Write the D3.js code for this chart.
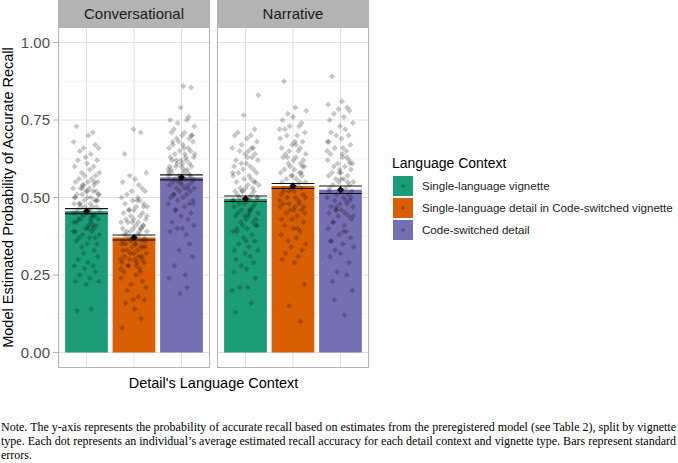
<!DOCTYPE html>
<html>
<head>
<meta charset="utf-8">
<script src="https://cdn.jsdelivr.net/npm/d3@7"></script>
<style>
  body { margin: 0; background: #fff; }
  svg { display: block; }
</style>
</head>
<body>
<svg id="chart" width="678" height="463"></svg>
<script>
// facets, categories, colours
var facets = ['Conversational', 'Narrative'];
var contexts = ['Single-language vignette',
                'Single-language detail in Code-switched vignette',
                'Code-switched detail'];
var colors = ['#1b9e77', '#d95f02', '#7570b3'];

// bar heights (means) and standard errors
var meansConv = [0.456, 0.371, 0.565];
var meansNarr = [0.496, 0.537, 0.525];
var seConv = [0.008, 0.008, 0.008];
var seNarr = [0.009, 0.008, 0.012];

var yTicks = [0, 0.25, 0.5, 0.75, 1];
var yMinor = [0.125, 0.375, 0.625, 0.875];
var yTickLabels = ['0.00', '0.25', '0.50', '0.75', '1.00'];

// horizontal jitter of the individual dots (in category units)
var jitterX = [-0.21, 0.13, 0.04, -0.27, 0.18, -0.06, 0.25, -0.14, 0.09, -0.02,
               0.22, -0.18, 0.01, 0.15, -0.25, 0.07, -0.10, 0.27, -0.04, 0.19,
               -0.16, 0.11, -0.23, 0.03, 0.24, -0.08, 0.16, -0.28, 0.06, -0.12,
               0.20, -0.01, 0.14, -0.20, 0.26, -0.09, 0.02, -0.24, 0.10, 0.17,
               -0.05, 0.23, -0.15, 0.08, -0.26, 0.12, -0.03, 0.21, -0.19, 0.05,
               0.28, -0.11, 0.00, -0.22, 0.18, -0.07, 0.13, -0.17, 0.25, -0.13,
               0.09, -0.27, 0.04, 0.20, -0.02, 0.15, -0.24, 0.11, -0.08, 0.27,
               -0.16, 0.06, -0.21, 0.01, 0.22, -0.10, 0.16, -0.06, 0.24, -0.18,
               0.03, -0.26, 0.14, -0.04, 0.19, -0.14, 0.07, -0.23, 0.26, -0.01,
               0.10, -0.20, 0.17, -0.09, 0.02, -0.25, 0.21, -0.12, 0.05, -0.28, 0.12];

// individual estimated accuracies (one dot per participant)
var ptsConvSingle = [0.73,0.71,0.70,0.68,0.67,0.66,0.66,0.65,0.64,0.63,0.62,0.62,0.61,0.60,0.60,0.59,0.58,0.58,0.57,0.57,
  0.56,0.56,0.55,0.55,0.55,0.54,0.54,0.53,0.53,0.53,0.52,0.52,0.52,0.51,0.51,0.51,0.50,0.50,0.50,0.49,
  0.49,0.49,0.48,0.48,0.48,0.47,0.47,0.47,0.46,0.46,0.46,0.45,0.45,0.45,0.44,0.44,0.44,0.43,0.43,0.43,
  0.42,0.42,0.41,0.41,0.40,0.40,0.39,0.39,0.38,0.38,0.37,0.37,0.36,0.35,0.35,0.34,0.33,0.32,0.31,0.30,
  0.29,0.28,0.28,0.27,0.26,0.25,0.24,0.23,0.23,0.22,0.14,0.135,
  0.55,0.53,0.52,0.50,0.49,0.47,0.46,0.45,0.44,0.42,0.41,0.40,0.39,0.37,0.54,0.51,0.48,0.43];
var ptsConvMixed = [0.72,0.71,0.64,0.58,0.57,0.56,0.55,0.54,0.53,0.52,0.52,0.51,0.50,0.50,0.49,0.49,0.48,0.48,0.47,0.47,
  0.46,0.46,0.45,0.45,0.44,0.44,0.43,0.43,0.42,0.42,0.42,0.41,0.41,0.40,0.40,0.40,0.39,0.39,0.39,0.38,
  0.38,0.38,0.37,0.37,0.37,0.36,0.36,0.36,0.35,0.35,0.35,0.34,0.34,0.34,0.33,0.33,0.33,0.32,0.32,0.31,
  0.31,0.30,0.30,0.30,0.29,0.29,0.28,0.28,0.27,0.27,0.26,0.26,0.25,0.24,0.23,0.22,0.21,0.20,0.18,0.17,
  0.17,0.16,0.14,0.11,0.08,
  0.49,0.46,0.44,0.42,0.41,0.39,0.38,0.36,0.35,0.34,0.32,0.31,0.30,0.29,0.28,0.47,0.43,0.40];
var ptsConvSwitched = [0.86,0.855,0.79,0.76,0.75,0.75,0.74,0.73,0.72,0.71,0.71,0.70,0.70,0.69,0.69,0.68,0.68,0.67,0.67,0.66,
  0.66,0.65,0.65,0.64,0.64,0.63,0.63,0.62,0.62,0.62,0.61,0.61,0.61,0.60,0.60,0.60,0.59,0.59,0.59,0.58,
  0.58,0.58,0.57,0.57,0.57,0.56,0.56,0.56,0.55,0.55,0.55,0.54,0.54,0.54,0.53,0.53,0.53,0.52,0.52,0.51,
  0.51,0.50,0.50,0.49,0.49,0.48,0.48,0.47,0.46,0.45,0.44,0.43,0.42,0.41,0.40,0.40,0.39,0.38,0.35,0.33,
  0.31,0.28,0.25,0.24,0.21,0.19,
  0.70,0.68,0.66,0.64,0.62,0.60,0.59,0.57,0.55,0.53,0.51,0.48,0.46,0.63,0.58];
var ptsNarrSingle = [0.83,0.765,0.72,0.71,0.70,0.70,0.69,0.68,0.67,0.66,0.66,0.65,0.65,0.64,0.64,0.63,0.62,0.62,0.61,0.61,
  0.60,0.60,0.59,0.59,0.58,0.58,0.57,0.57,0.56,0.56,0.55,0.55,0.54,0.54,0.53,0.53,0.52,0.52,0.52,0.51,
  0.51,0.50,0.50,0.50,0.49,0.49,0.48,0.48,0.47,0.47,0.46,0.46,0.45,0.45,0.44,0.44,0.43,0.43,0.42,0.42,
  0.41,0.41,0.40,0.40,0.39,0.38,0.37,0.36,0.35,0.34,0.33,0.33,0.32,0.31,0.30,0.29,0.28,0.27,0.26,0.24,
  0.21,0.21,0.20,0.16,0.13,
  0.66,0.63,0.58,0.55,0.52,0.50,0.48,0.46,0.44,0.41,0.39,0.36,0.53,0.49,0.45];
var ptsNarrMixed = [0.875,0.79,0.78,0.77,0.76,0.75,0.74,0.73,0.73,0.72,0.71,0.70,0.70,0.69,0.68,0.68,0.67,0.66,0.66,0.65,
  0.65,0.64,0.64,0.63,0.63,0.62,0.62,0.61,0.61,0.60,0.60,0.59,0.59,0.58,0.58,0.57,0.57,0.56,0.56,0.55,
  0.55,0.54,0.54,0.53,0.53,0.52,0.52,0.51,0.51,0.50,0.50,0.49,0.49,0.48,0.48,0.47,0.47,0.46,0.46,0.45,
  0.45,0.44,0.43,0.42,0.41,0.40,0.39,0.38,0.37,0.36,0.35,0.34,0.33,0.32,0.31,0.30,0.29,0.22,0.15,0.10,
  0.72,0.67,0.63,0.60,0.57,0.55,0.52,0.50,0.48,0.46,0.43,0.40,0.58,0.53,0.47];
var ptsNarrSwitched = [0.89,0.81,0.80,0.79,0.785,0.78,0.77,0.76,0.75,0.74,0.73,0.72,0.71,0.70,0.70,0.69,0.68,0.67,0.66,0.66,
  0.65,0.65,0.64,0.63,0.63,0.62,0.62,0.61,0.61,0.60,0.60,0.59,0.59,0.58,0.58,0.57,0.57,0.56,0.56,0.55,
  0.55,0.54,0.54,0.53,0.53,0.52,0.52,0.51,0.51,0.50,0.50,0.49,0.49,0.48,0.48,0.47,0.47,0.46,0.46,0.45,
  0.45,0.44,0.44,0.43,0.42,0.41,0.40,0.39,0.38,0.37,0.36,0.35,0.34,0.33,0.32,0.31,0.29,0.26,0.25,0.23,
  0.20,0.17,0.12,
  0.68,0.64,0.61,0.58,0.55,0.52,0.49,0.47,0.44,0.42,0.39,0.36,0.56,0.50,0.46];

var noteLines = [
  'Note. The y-axis represents the probability of accurate recall based on estimates from the preregistered model (see Table 2), split by vignette',
  'type. Each dot represents an individual\u2019s average estimated recall accuracy for each detail context and vignette type. Bars represent standard',
  'errors.'
];

var panelData = [
  { means: meansConv, se: seConv, pts: [ptsConvSingle, ptsConvMixed, ptsConvSwitched] },
  { means: meansNarr, se: seNarr, pts: [ptsNarrSingle, ptsNarrMixed, ptsNarrSwitched] }
];

var svg = d3.select('#chart');
var sans = '"Liberation Sans", Arial, Helvetica, sans-serif';

var panelLeft = [58, 217];
var panelWidth = 152;
var panelTop = 27;
var panelBottom = 368;
var stripHeight = 27;

var yScale = d3.scaleLinear().domain([-0.05, 1.05]).range([panelBottom, panelTop]);

function diamond(r) {
  return 'M0,' + (-r) + 'L' + r + ',0L0,' + r + 'L' + (-r) + ',0Z';
}

facets.forEach(function(facet, f) {
  var x0 = panelLeft[f];
  var xScale = d3.scaleLinear().domain([0.4, 3.6]).range([x0, x0 + panelWidth]);
  var g = svg.append('g');
  var pd = panelData[f];

  // grid
  g.selectAll('.minor').data(yMinor).enter().append('line')
    .attr('x1', x0).attr('x2', x0 + panelWidth)
    .attr('y1', d => yScale(d)).attr('y2', d => yScale(d))
    .style('stroke', '#ececec').style('stroke-width', 0.6);
  g.selectAll('.major').data(yTicks).enter().append('line')
    .attr('x1', x0).attr('x2', x0 + panelWidth)
    .attr('y1', d => yScale(d)).attr('y2', d => yScale(d))
    .style('stroke', '#e0e0e0').style('stroke-width', 1);
  g.selectAll('.vmajor').data(contexts).enter().append('line')
    .attr('x1', (d, i) => xScale(i + 1)).attr('x2', (d, i) => xScale(i + 1))
    .attr('y1', panelTop).attr('y2', panelBottom)
    .style('stroke', '#e0e0e0').style('stroke-width', 1);

  // bars
  g.selectAll('.bar').data(pd.means).enter().append('rect')
    .attr('x', (d, i) => xScale(i + 1 - 0.45))
    .attr('width', xScale(1.9) - xScale(1))
    .attr('y', d => yScale(d))
    .attr('height', d => yScale(0) - yScale(d))
    .style('fill', (d, i) => colors[i]);

  // individual dots
  pd.pts.forEach(function(arr, c) {
    g.append('g').selectAll('path').data(arr).enter().append('path')
      .attr('d', diamond(3))
      .attr('transform', function(d, i) {
        var jx = jitterX[(i + c * 31 + f * 17) % jitterX.length];
        return 'translate(' + xScale(c + 1 + jx) + ',' + yScale(d) + ')';
      })
      .style('fill', '#000').style('fill-opacity', 0.22);
  });

  // error bars
  pd.means.forEach(function(m, c) {
    var se = pd.se[c];
    var xa = xScale(c + 1 - 0.45), xb = xScale(c + 1 + 0.45);
    [m + se, m - se].forEach(function(v) {
      g.append('line').attr('x1', xa).attr('x2', xb)
        .attr('y1', yScale(v)).attr('y2', yScale(v))
        .style('stroke', '#111').style('stroke-width', 1.1);
    });
    g.append('line').attr('x1', xScale(c + 1)).attr('x2', xScale(c + 1))
      .attr('y1', yScale(m + se)).attr('y2', yScale(m - se))
      .style('stroke', '#111').style('stroke-width', 1.1);
    g.append('path').attr('d', diamond(3.6))
      .attr('transform', 'translate(' + xScale(c + 1) + ',' + yScale(m) + ')')
      .style('fill', '#000');
  });

  // panel border
  g.append('rect').attr('x', x0 + 0.5).attr('y', panelTop + 0.5)
    .attr('width', panelWidth - 1).attr('height', panelBottom - panelTop - 1)
    .style('fill', 'none').style('stroke', '#b3b3b3').style('stroke-width', 1);

  // strip
  g.append('rect').attr('x', x0).attr('y', 0)
    .attr('width', panelWidth).attr('height', stripHeight)
    .style('fill', '#b3b3b3');
  g.append('text').attr('x', x0 + panelWidth / 2).attr('y', stripHeight / 2)
    .attr('dy', '0.36em').attr('text-anchor', 'middle')
    .style('font-family', sans).style('font-size', '15px').style('fill', '#1a1a1a')
    .text(facet);
});

// y axis ticks and labels
var yAxis = svg.append('g');
yAxis.selectAll('line').data(yTicks).enter().append('line')
  .attr('x1', 53).attr('x2', 58)
  .attr('y1', d => yScale(d)).attr('y2', d => yScale(d))
  .style('stroke', '#b3b3b3');
yAxis.selectAll('text').data(yTicks).enter().append('text')
  .attr('x', 50).attr('y', d => yScale(d)).attr('dy', '0.36em')
  .attr('text-anchor', 'end')
  .style('font-family', sans).style('font-size', '15px').style('fill', '#4d4d4d')
  .text((d, i) => yTickLabels[i]);

// axis titles
svg.append('text')
  .attr('transform', 'translate(13,' + ((panelTop + panelBottom) / 2) + ') rotate(-90)')
  .attr('text-anchor', 'middle')
  .style('font-family', sans).style('font-size', '14.5px').style('fill', '#000')
  .text('Model Estimated Probability of Accurate Recall');
svg.append('text')
  .attr('x', (panelLeft[0] + panelLeft[1] + panelWidth) / 2).attr('y', 388)
  .attr('text-anchor', 'middle')
  .style('font-family', sans).style('font-size', '14.5px').style('fill', '#000')
  .text("Detail's Language Context");

// legend
var legend = svg.append('g');
legend.append('text').attr('x', 392).attr('y', 168)
  .style('font-family', sans).style('font-size', '14px').style('fill', '#000')
  .text('Language Context');
var keys = legend.selectAll('.key').data(contexts).enter().append('g')
  .attr('transform', (d, i) => 'translate(393,' + (176 + i * 22) + ')');
keys.append('rect').attr('width', 20).attr('height', 20)
  .style('fill', (d, i) => colors[i]);
keys.append('path').attr('d', diamond(2.2))
  .attr('transform', 'translate(10,10)')
  .style('fill', '#000').style('fill-opacity', 0.25);
keys.append('text').attr('x', 29).attr('y', 10).attr('dy', '0.35em')
  .style('font-family', sans).style('font-size', '11.6px').style('fill', '#1a1a1a')
  .text(d => d);

// note
var note = svg.append('g');
note.selectAll('text').data(noteLines).enter().append('text')
  .attr('x', 1).attr('y', (d, i) => 430.5 + i * 14.3)
  .attr('textLength', (d, i) => i < 2 ? 675 : null)
  .attr('lengthAdjust', 'spacing')
  .style('font-family', '"Liberation Serif", "Times New Roman", Times, serif')
  .style('font-size', '12px').style('fill', '#000')
  .text(d => d);
</script>
</body>
</html>
